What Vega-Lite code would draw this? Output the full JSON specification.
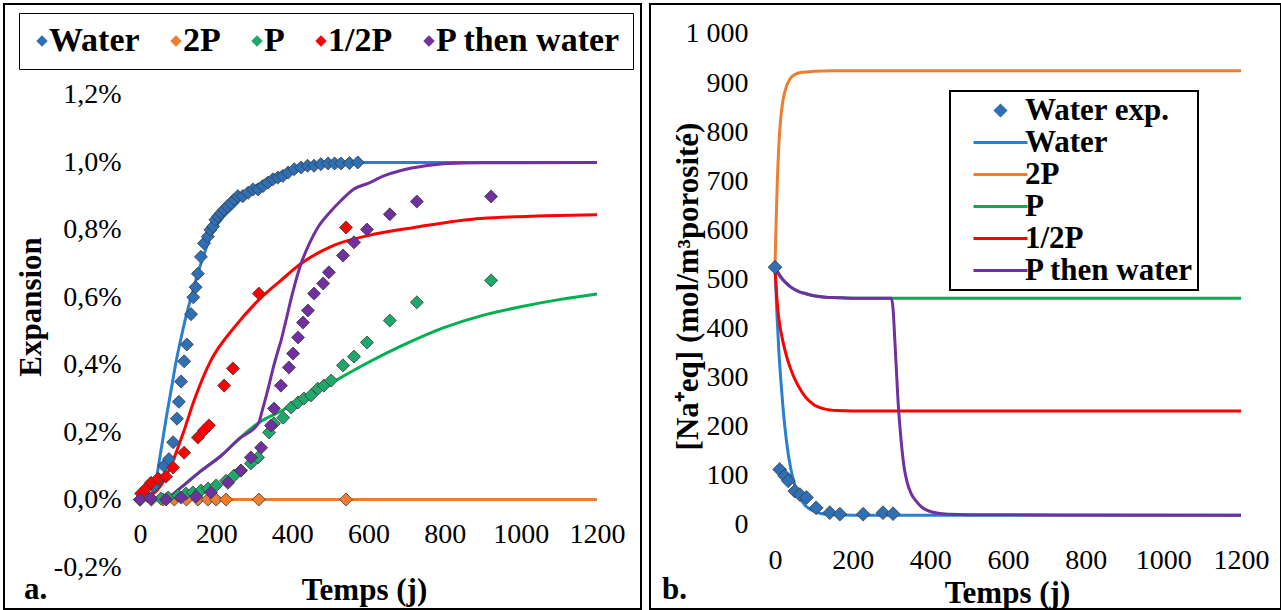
{
"$schema": "https://vega.github.io/schema/vega-lite/v6.json",
"padding": {"left": 3, "top": 3, "right": 0, "bottom": 0},
"spacing": 7,
"background": "white",
"config": {
  "view": {"stroke": "black", "strokeWidth": 2},
  "font": "Liberation Serif",
  "axis": {"labelFont": "Liberation Serif", "titleFont": "Liberation Serif", "labelColor": "black", "titleColor": "black", "domain": false, "ticks": false, "grid": false, "labelFontSize": 28, "labelFontWeight": "normal", "titleFontSize": 31, "titleFontWeight": "bold"},
  "legend": {"labelFont": "Liberation Serif", "labelColor": "black", "labelFontWeight": "bold", "labelLimit": 600}
},
"datasets": {
  "gA_t": [{"t":0},{"t":200},{"t":400},{"t":600},{"t":800},{"t":1000},{"t":1200}],
  "gA_v": [{"v":-0.002},{"v":0},{"v":0.002},{"v":0.004},{"v":0.006},{"v":0.008},{"v":0.010},{"v":0.012}],
  "gB_t": [{"t":0},{"t":200},{"t":400},{"t":600},{"t":800},{"t":1000},{"t":1200}],
  "gB_v": [{"v":0},{"v":100},{"v":200},{"v":300},{"v":400},{"v":500},{"v":600},{"v":700},{"v":800},{"v":900},{"v":1000}],
  "linA": [
    {"series":"Water","t":0,"v":0},{"series":"Water","t":25,"v":0.0001},{"series":"Water","t":35,"v":0.0003},{"series":"Water","t":42,"v":0.00056},{"series":"Water","t":50,"v":0.0011},{"series":"Water","t":60,"v":0.0018},{"series":"Water","t":70,"v":0.0025},{"series":"Water","t":81,"v":0.0032},{"series":"Water","t":95,"v":0.0041},{"series":"Water","t":108,"v":0.0048},{"series":"Water","t":118,"v":0.0053},{"series":"Water","t":139,"v":0.0062},{"series":"Water","t":160,"v":0.0070},{"series":"Water","t":194,"v":0.0080},{"series":"Water","t":220,"v":0.0084},{"series":"Water","t":247,"v":0.0087},{"series":"Water","t":280,"v":0.0091},{"series":"Water","t":318,"v":0.0094},{"series":"Water","t":350,"v":0.0096},{"series":"Water","t":389,"v":0.00976},{"series":"Water","t":420,"v":0.0099},{"series":"Water","t":457,"v":0.00997},{"series":"Water","t":520,"v":0.0100},{"series":"Water","t":1200,"v":0.0100},
    {"series":"2P","t":0,"v":0},{"series":"2P","t":1200,"v":0},
    {"series":"P","t":0,"v":0},{"series":"P","t":40,"v":0},{"series":"P","t":68,"v":0.00003},{"series":"P","t":108,"v":0.00036},{"series":"P","t":160,"v":0.00085},{"series":"P","t":213,"v":0.0013},{"series":"P","t":260,"v":0.0018},{"series":"P","t":312,"v":0.00228},{"series":"P","t":370,"v":0.00262},{"series":"P","t":423,"v":0.00295},{"series":"P","t":509,"v":0.0035},{"series":"P","t":588,"v":0.0040},{"series":"P","t":685,"v":0.00455},{"series":"P","t":798,"v":0.0051},{"series":"P","t":895,"v":0.00545},{"series":"P","t":1000,"v":0.00572},{"series":"P","t":1100,"v":0.00593},{"series":"P","t":1200,"v":0.0061},
    {"series":"1/2P","t":0,"v":0},{"series":"1/2P","t":29,"v":0.00012},{"series":"1/2P","t":55,"v":0.00042},{"series":"1/2P","t":87,"v":0.00116},{"series":"1/2P","t":113,"v":0.00196},{"series":"1/2P","t":142,"v":0.00294},{"series":"1/2P","t":186,"v":0.00412},{"series":"1/2P","t":247,"v":0.0051},{"series":"1/2P","t":310,"v":0.0059},{"series":"1/2P","t":370,"v":0.0065},{"series":"1/2P","t":423,"v":0.0070},{"series":"1/2P","t":509,"v":0.00754},{"series":"1/2P","t":599,"v":0.00783},{"series":"1/2P","t":720,"v":0.00807},{"series":"1/2P","t":895,"v":0.00834},{"series":"1/2P","t":1200,"v":0.00845},
    {"series":"P then water","t":0,"v":0},{"series":"P then water","t":40,"v":0},{"series":"P then water","t":68,"v":0.00003},{"series":"P then water","t":108,"v":0.00036},{"series":"P then water","t":160,"v":0.00085},{"series":"P then water","t":213,"v":0.0013},{"series":"P then water","t":260,"v":0.0018},{"series":"P then water","t":312,"v":0.00228},{"series":"P then water","t":320,"v":0.0026},{"series":"P then water","t":331,"v":0.00305},{"series":"P then water","t":341,"v":0.0035},{"series":"P then water","t":352,"v":0.0040},{"series":"P then water","t":362,"v":0.0044},{"series":"P then water","t":370,"v":0.0047},{"series":"P then water","t":383,"v":0.0053},{"series":"P then water","t":400,"v":0.0061},{"series":"P then water","t":423,"v":0.0070},{"series":"P then water","t":445,"v":0.0076},{"series":"P then water","t":467,"v":0.00807},{"series":"P then water","t":497,"v":0.0085},{"series":"P then water","t":528,"v":0.00887},{"series":"P then water","t":560,"v":0.0092},{"series":"P then water","t":599,"v":0.00938},{"series":"P then water","t":640,"v":0.0096},{"series":"P then water","t":685,"v":0.00976},{"series":"P then water","t":750,"v":0.0099},{"series":"P then water","t":809,"v":0.00997},{"series":"P then water","t":900,"v":0.00999},{"series":"P then water","t":1200,"v":0.0100}
  ],
  "ptsA": [
    {"series":"Water","t":0,"v":0},{"series":"Water","t":20,"v":0.0001},{"series":"Water","t":37,"v":0.0004},{"series":"Water","t":50,"v":0.0006},{"series":"Water","t":63,"v":0.0010},{"series":"Water","t":76,"v":0.0012},{"series":"Water","t":87,"v":0.0017},{"series":"Water","t":97,"v":0.0024},{"series":"Water","t":102,"v":0.0029},{"series":"Water","t":108,"v":0.0035},{"series":"Water","t":116,"v":0.0041},{"series":"Water","t":123,"v":0.0046},{"series":"Water","t":134,"v":0.0055},{"series":"Water","t":140,"v":0.0060},{"series":"Water","t":146,"v":0.0063},{"series":"Water","t":152,"v":0.0067},{"series":"Water","t":160,"v":0.0072},{"series":"Water","t":168,"v":0.0076},{"series":"Water","t":178,"v":0.0078},{"series":"Water","t":185,"v":0.0080},{"series":"Water","t":192,"v":0.0081},{"series":"Water","t":198,"v":0.0083},{"series":"Water","t":205,"v":0.0084},{"series":"Water","t":213,"v":0.0085},{"series":"Water","t":221,"v":0.0086},{"series":"Water","t":230,"v":0.0087},{"series":"Water","t":239,"v":0.0088},{"series":"Water","t":248,"v":0.0089},{"series":"Water","t":257,"v":0.0090},{"series":"Water","t":270,"v":0.0090},{"series":"Water","t":284,"v":0.0091},{"series":"Water","t":297,"v":0.0092},{"series":"Water","t":310,"v":0.0092},{"series":"Water","t":323,"v":0.0093},{"series":"Water","t":336,"v":0.0094},{"series":"Water","t":349,"v":0.0095},{"series":"Water","t":362,"v":0.00955},{"series":"Water","t":375,"v":0.0096},{"series":"Water","t":389,"v":0.0097},{"series":"Water","t":405,"v":0.0098},{"series":"Water","t":423,"v":0.00985},{"series":"Water","t":440,"v":0.0099},{"series":"Water","t":457,"v":0.0099},{"series":"Water","t":475,"v":0.00995},{"series":"Water","t":494,"v":0.00997},{"series":"Water","t":511,"v":0.00997},{"series":"Water","t":528,"v":0.00997},{"series":"Water","t":550,"v":0.00998},{"series":"Water","t":572,"v":0.0100},
    {"series":"2P","t":0,"v":0},{"series":"2P","t":60,"v":0},{"series":"2P","t":90,"v":0},{"series":"2P","t":122,"v":0},{"series":"2P","t":152,"v":0},{"series":"2P","t":178,"v":0},{"series":"2P","t":200,"v":0},{"series":"2P","t":226,"v":0},{"series":"2P","t":312,"v":0},{"series":"2P","t":541,"v":0},
    {"series":"P","t":0,"v":0},{"series":"P","t":30,"v":0},{"series":"P","t":55,"v":0.00003},{"series":"P","t":74,"v":0.00006},{"series":"P","t":100,"v":0.00012},{"series":"P","t":121,"v":0.00018},{"series":"P","t":139,"v":0.00021},{"series":"P","t":160,"v":0.00027},{"series":"P","t":179,"v":0.00033},{"series":"P","t":200,"v":0.00042},{"series":"P","t":226,"v":0.00056},{"series":"P","t":247,"v":0.00071},{"series":"P","t":265,"v":0.00086},{"series":"P","t":291,"v":0.00107},{"series":"P","t":310,"v":0.00125},{"series":"P","t":339,"v":0.00199},{"series":"P","t":352,"v":0.00226},{"series":"P","t":376,"v":0.00243},{"series":"P","t":397,"v":0.00273},{"series":"P","t":415,"v":0.00288},{"series":"P","t":431,"v":0.0030},{"series":"P","t":449,"v":0.00309},{"series":"P","t":467,"v":0.00329},{"series":"P","t":483,"v":0.00338},{"series":"P","t":502,"v":0.00353},{"series":"P","t":533,"v":0.00398},{"series":"P","t":562,"v":0.00424},{"series":"P","t":596,"v":0.00466},{"series":"P","t":656,"v":0.00531},{"series":"P","t":727,"v":0.00585},{"series":"P","t":922,"v":0.0065},
    {"series":"1/2P","t":0,"v":0},{"series":"1/2P","t":3,"v":0.00018},{"series":"1/2P","t":16,"v":0.00033},{"series":"1/2P","t":29,"v":0.0005},{"series":"1/2P","t":47,"v":0.00062},{"series":"1/2P","t":68,"v":0.00068},{"series":"1/2P","t":87,"v":0.00095},{"series":"1/2P","t":116,"v":0.00139},{"series":"1/2P","t":152,"v":0.00184},{"series":"1/2P","t":168,"v":0.00205},{"series":"1/2P","t":181,"v":0.0022},{"series":"1/2P","t":221,"v":0.00338},{"series":"1/2P","t":244,"v":0.00389},{"series":"1/2P","t":312,"v":0.00611},{"series":"1/2P","t":541,"v":0.00807},
    {"series":"P then water","t":0,"v":0},{"series":"P then water","t":29,"v":0.00003},{"series":"P then water","t":68,"v":0},{"series":"P then water","t":108,"v":0.00006},{"series":"P then water","t":147,"v":0.00009},{"series":"P then water","t":186,"v":0.00021},{"series":"P then water","t":231,"v":0.0005},{"series":"P then water","t":265,"v":0.00086},{"series":"P then water","t":291,"v":0.00125},{"series":"P then water","t":318,"v":0.00154},{"series":"P then water","t":344,"v":0.0022},{"series":"P then water","t":352,"v":0.0027},{"series":"P then water","t":370,"v":0.00338},{"series":"P then water","t":391,"v":0.00392},{"series":"P then water","t":402,"v":0.00433},{"series":"P then water","t":415,"v":0.00481},{"series":"P then water","t":428,"v":0.00525},{"series":"P then water","t":441,"v":0.00561},{"series":"P then water","t":457,"v":0.00611},{"series":"P then water","t":481,"v":0.00641},{"series":"P then water","t":496,"v":0.00674},{"series":"P then water","t":533,"v":0.00724},{"series":"P then water","t":562,"v":0.00763},{"series":"P then water","t":596,"v":0.00801},{"series":"P then water","t":656,"v":0.00846},{"series":"P then water","t":727,"v":0.00884},{"series":"P then water","t":922,"v":0.00899}
  ],
  "linB": [
    {"series":"Water","t":0,"v":525},{"series":"Water","t":5,"v":430},{"series":"Water","t":10,"v":353},{"series":"Water","t":15,"v":295},{"series":"Water","t":20,"v":245},{"series":"Water","t":30,"v":168},{"series":"Water","t":40,"v":117},{"series":"Water","t":50,"v":84},{"series":"Water","t":60,"v":61},{"series":"Water","t":80,"v":38},{"series":"Water","t":100,"v":28},{"series":"Water","t":130,"v":22},{"series":"Water","t":160,"v":21},{"series":"Water","t":200,"v":20},{"series":"Water","t":1200,"v":20},
    {"series":"2P","t":0,"v":525},{"series":"2P","t":3,"v":620},{"series":"2P","t":6,"v":700},{"series":"2P","t":10,"v":775},{"series":"2P","t":15,"v":830},{"series":"2P","t":20,"v":862},{"series":"2P","t":30,"v":895},{"series":"2P","t":40,"v":910},{"series":"2P","t":50,"v":917},{"series":"2P","t":70,"v":922},{"series":"2P","t":100,"v":924},{"series":"2P","t":150,"v":925},{"series":"2P","t":1200,"v":925},
    {"series":"P","t":0,"v":525},{"series":"P","t":10,"v":511},{"series":"P","t":20,"v":500},{"series":"P","t":30,"v":492},{"series":"P","t":40,"v":485},{"series":"P","t":60,"v":476},{"series":"P","t":80,"v":471},{"series":"P","t":100,"v":467},{"series":"P","t":130,"v":464},{"series":"P","t":160,"v":463},{"series":"P","t":200,"v":462},{"series":"P","t":1200,"v":462},
    {"series":"1/2P","t":0,"v":525},{"series":"1/2P","t":5,"v":460},{"series":"1/2P","t":10,"v":420},{"series":"1/2P","t":15,"v":395},{"series":"1/2P","t":20,"v":375},{"series":"1/2P","t":30,"v":343},{"series":"1/2P","t":45,"v":308},{"series":"1/2P","t":60,"v":283},{"series":"1/2P","t":80,"v":259},{"series":"1/2P","t":100,"v":245},{"series":"1/2P","t":130,"v":236},{"series":"1/2P","t":160,"v":233},{"series":"1/2P","t":200,"v":232},{"series":"1/2P","t":1200,"v":232},
    {"series":"P then water","t":0,"v":525},{"series":"P then water","t":10,"v":511},{"series":"P then water","t":20,"v":500},{"series":"P then water","t":30,"v":492},{"series":"P then water","t":40,"v":485},{"series":"P then water","t":60,"v":476},{"series":"P then water","t":80,"v":471},{"series":"P then water","t":100,"v":467},{"series":"P then water","t":130,"v":464},{"series":"P then water","t":160,"v":463},{"series":"P then water","t":200,"v":462},{"series":"P then water","t":300,"v":462},{"series":"P then water","t":304,"v":440},{"series":"P then water","t":309,"v":370},{"series":"P then water","t":317,"v":250},{"series":"P then water","t":325,"v":170},{"series":"P then water","t":333,"v":115},{"series":"P then water","t":340,"v":88},{"series":"P then water","t":350,"v":65},{"series":"P then water","t":364,"v":48},{"series":"P then water","t":380,"v":35},{"series":"P then water","t":398,"v":28},{"series":"P then water","t":420,"v":24},{"series":"P then water","t":450,"v":22},{"series":"P then water","t":500,"v":21},{"series":"P then water","t":1200,"v":20}
  ],
  "ptsB": [
    {"series":"Water exp.","t":0,"v":525},{"series":"Water exp.","t":12,"v":113},{"series":"Water exp.","t":25,"v":100},{"series":"Water exp.","t":34,"v":90},{"series":"Water exp.","t":51,"v":69},{"series":"Water exp.","t":64,"v":62},{"series":"Water exp.","t":81,"v":56},{"series":"Water exp.","t":106,"v":35},{"series":"Water exp.","t":141,"v":25},{"series":"Water exp.","t":167,"v":22},{"series":"Water exp.","t":227,"v":22},{"series":"Water exp.","t":278,"v":25},{"series":"Water exp.","t":304,"v":23}
  ]
},
"hconcat": [
  {
    "width": 637, "height": 605,
    "title": {"text": "a.", "orient": "bottom", "anchor": "start", "offset": -10, "baseline": "alphabetic", "fontSize": 31, "fontWeight": "bold", "font": "Liberation Serif", "color": "black", "dx": 20},
    "encoding": {
      "x": {"field": "t", "type": "quantitative", "scale": {"domain": [-357.11, 1315.55], "nice": false, "zero": false},
            "axis": {"values": [0,200,400,600,800,1000,1200], "format": "d", "labelFont": "Liberation Serif", "offset": -109, "labelPadding": 20, "title": "Temps (j)", "titleX": 360, "titleY": 99, "titleBaseline": "alphabetic"}},
      "y": {"field": "v", "type": "quantitative", "scale": {"domain": [-0.0032457, 0.014699], "nice": false, "zero": false},
            "axis": {"values": [-0.002,0,0.002,0.004,0.006,0.008,0.010,0.012], "labelFont": "Liberation Serif", "offset": -136, "labelPadding": 19, "labelExpr": "replace(replace(format(datum.value, '.1%'), '.', ','), '\u2212', '-')", "title": "Expansion", "titleX": -109, "titleBaseline": "middle"}}
    },
    "layer": [
      {"data": {"name": "gA_t"}, "mark": {"type": "rule", "color": "#D9D9D9", "strokeWidth": 1.5}, "encoding": {"y": {"datum": -0.002}, "y2": {"datum": 0.012}}},
      {"data": {"name": "gA_v"}, "mark": {"type": "rule", "color": "#D9D9D9", "strokeWidth": 1.5}, "encoding": {"x": {"datum": 0}, "x2": {"datum": 1200}}},
      {"data": {"name": "linA"}, "mark": {"type": "line", "strokeWidth": 3, "interpolate": "monotone"},
       "encoding": {"stroke": {"field": "series", "type": "nominal", "scale": {"domain": ["P then water","1/2P","P","2P","Water"], "range": ["#7030A0","#FF0000","#00B050","#ED7D31","#2A7FCF"]}, "legend": null}}},
      {"data": {"name": "ptsA"}, "mark": {"type": "point", "shape": "diamond", "filled": true, "size": 170, "opacity": 1, "stroke": "#3A3A3A", "strokeWidth": 0.8},
       "encoding": {"fill": {"field": "series", "type": "nominal", "scale": {"domain": ["Water","2P","P","1/2P","P then water"], "range": ["#2E6FB5","#ED7D31","#1FA86B","#FF0000","#7030A0"]},
         "legend": {"orient": "none", "legendX": 15, "legendY": 9, "direction": "horizontal", "title": null, "symbolType": "diamond", "symbolSize": 130, "symbolStrokeWidth": 0, "labelFontSize": 34, "labelFontWeight": "bold", "symbolOffset": -5, "labelOffset": -10, "columnPadding": 24, "padding": 11, "strokeColor": "black", "fillColor": "white",
           "encode": {"legend": {"update": {"strokeWidth": {"value": 2}}}}}}}}
    ]
  },
  {
    "width": 631, "height": 605,
    "title": {"text": "b.", "orient": "bottom", "anchor": "start", "offset": -10, "baseline": "alphabetic", "fontSize": 31, "fontWeight": "bold", "font": "Liberation Serif", "color": "black", "dx": 12},
    "encoding": {
      "x": {"field": "t", "type": "quantitative", "scale": {"domain": [-321.89, 1303.0], "nice": false, "zero": false},
            "axis": {"values": [0,200,400,600,800,1000,1200], "format": "d", "labelFont": "Liberation Serif", "offset": -84, "labelPadding": 21, "title": "Temps (j)", "titleX": 357, "titleY": 77, "titleBaseline": "alphabetic"}},
      "y": {"field": "v", "type": "quantitative", "scale": {"domain": [-171.1, 1061.1], "nice": false, "zero": false},
            "axis": {"values": [0,100,200,300,400,500,600,700,800,900,1000], "labelFont": "Liberation Serif", "offset": -125, "labelPadding": 27, "labelExpr": "datum.value == 1000 ? '1 000' : format(datum.value, 'd')", "title": "[Na\u207aeq] (mol/m\u00b3porosit\u00e9)", "titleX": -87, "titleY": 282, "titleBaseline": "middle"}}
    },
    "layer": [
      {"data": {"name": "gB_t"}, "mark": {"type": "rule", "color": "#D9D9D9", "strokeWidth": 1.5}, "encoding": {"y": {"datum": 0}, "y2": {"datum": 1000}}},
      {"data": {"name": "gB_v"}, "mark": {"type": "rule", "color": "#D9D9D9", "strokeWidth": 1.5}, "encoding": {"x": {"datum": 0}, "x2": {"datum": 1200}}},
      {"data": {"name": "linB"}, "mark": {"type": "line", "strokeWidth": 3, "interpolate": "monotone"},
       "encoding": {"color": {"field": "series", "type": "nominal", "scale": {"domain": ["Water exp.","Water","2P","P","1/2P","P then water"], "range": ["#2E6FB5","#2A7FCF","#ED7D31","#00B050","#FF0000","#7030A0"]},
         "legend": {"orient": "none", "legendX": 946, "legendY": 87, "direction": "vertical", "title": null, "symbolType": "stroke", "symbolSize": 100, "symbolStrokeWidth": 3, "labelFontSize": 31, "labelFontWeight": "bold", "symbolOffset": 31, "labelOffset": 9, "rowPadding": 0, "padding": 4, "strokeColor": "black", "fillColor": "white",
           "encode": {"legend": {"update": {"strokeWidth": {"value": 2}}},
                      "symbols": {"update": {"shape": {"signal": "datum.value === 'Water exp.' ? 'diamond' : 'M-5.4,0H5.4'"}, "fill": {"signal": "datum.value === 'Water exp.' ? '#2E6FB5' : 'transparent'"}}}}}}}},
      {"data": {"name": "ptsB"}, "mark": {"type": "point", "shape": "diamond", "filled": true, "size": 190, "opacity": 1, "stroke": "#3A3A3A", "strokeWidth": 0.8},
       "encoding": {"color": {"field": "series", "type": "nominal", "legend": null}}}
    ]
  }
]
}
